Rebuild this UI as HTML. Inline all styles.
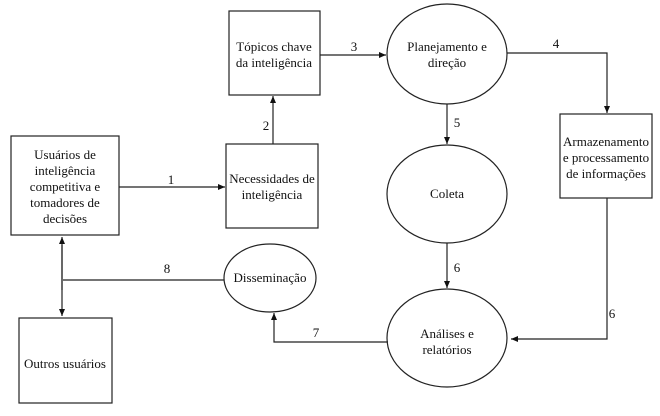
<!DOCTYPE html>
<html><head><meta charset="utf-8"><style>
html,body{margin:0;padding:0;background:#fff;}
text{font-family:"Liberation Serif","Times New Roman","DejaVu Serif",serif !important;font-size:13px;fill:#111;}
</style></head><body>
<svg width="660" height="411" viewBox="0 0 660 411" xmlns="http://www.w3.org/2000/svg">
<defs><marker id="a" markerWidth="8" markerHeight="8" refX="7" refY="4" orient="auto" markerUnits="userSpaceOnUse"><path d="M0,1 L7,4 L0,7 z" fill="#111"/></marker></defs>
<g fill="none" stroke="#222" stroke-width="1.2">
<rect x="229" y="11" width="91" height="84"/>
<rect x="11" y="136" width="108" height="99"/>
<rect x="226" y="144" width="92" height="84"/>
<rect x="19" y="318" width="93" height="85"/>
<rect x="560" y="114" width="92" height="84"/>
<ellipse cx="270" cy="278" rx="46" ry="34"/>
<ellipse cx="447" cy="54" rx="60" ry="50"/>
<ellipse cx="447" cy="194" rx="60" ry="49"/>
<ellipse cx="447" cy="338" rx="60" ry="49"/>
<line x1="119" y1="187" x2="225" y2="187" marker-end="url(#a)"/>
<line x1="273" y1="144" x2="273" y2="96" marker-end="url(#a)"/>
<line x1="320" y1="55" x2="386" y2="55" marker-end="url(#a)"/>
<polyline points="507,53 607,53 607,113" marker-end="url(#a)"/>
<line x1="447" y1="104" x2="447" y2="144" marker-end="url(#a)"/>
<line x1="447" y1="243" x2="447" y2="288" marker-end="url(#a)"/>
<polyline points="607,198 607,339 511,339" marker-end="url(#a)"/>
<polyline points="388,342 274,342 274,313" marker-end="url(#a)"/>
<line x1="63" y1="280" x2="224" y2="280"/>
<line x1="62" y1="245" x2="62" y2="316" marker-end="url(#a)"/>
<line x1="62" y1="290" x2="62" y2="237" marker-end="url(#a)"/>
</g>
<g text-anchor="middle" font-family="Liberation Serif, serif" font-size="13">
<text x="274" y="51">Tópicos chave</text><text x="274" y="67">da inteligência</text>
<text x="65" y="159">Usuários de</text><text x="65" y="175">inteligência</text><text x="65" y="191">competitiva e</text><text x="65" y="207">tomadores de</text><text x="65" y="223">decisões</text>
<text x="272" y="183">Necessidades de</text><text x="272" y="199">inteligência</text>
<text x="65" y="368">Outros usuários</text>
<text x="270" y="282">Disseminação</text>
<text x="447" y="51">Planejamento e</text><text x="447" y="67">direção</text>
<text x="447" y="198">Coleta</text>
<text x="447" y="338">Análises e</text><text x="447" y="354">relatórios</text>
<text x="606" y="146">Armazenamento</text><text x="606" y="162">e processamento</text><text x="606" y="178">de informações</text>
<text x="171" y="184">1</text><text x="266" y="130">2</text><text x="354" y="51">3</text><text x="556" y="48">4</text>
<text x="457" y="127">5</text><text x="457" y="272">6</text><text x="612" y="318">6</text>
<text x="316" y="337">7</text><text x="167" y="273">8</text>
</g>
</svg>
</body></html>
